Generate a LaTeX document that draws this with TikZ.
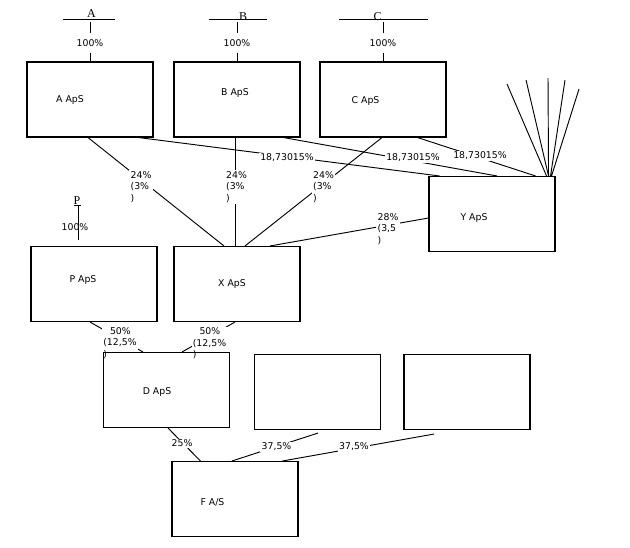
\documentclass[tikz,border=0pt]{standalone}
\usepackage{fontspec}
\setmainfont{DejaVu Sans}
\newfontfamily\ownerfont{Liberation Serif}
\usetikzlibrary{calc,backgrounds}
\def\px{0.75pt} % one pixel of the sketch
\tikzset{%
  >=latex,
  company/.style={draw,line width=0.8pt,minimum width=126*\px,
    minimum height=75*\px,inner sep=0pt},
  company name/.style={font=\fontsize{7}{8}\selectfont,inner sep=0pt},
  share/.style={font=\fontsize{7}{8.6}\selectfont,align=left,fill=white,
    inner sep=1pt},
  owner/.style={font=\ownerfont\fontsize{9}{9}\selectfont,anchor=base,
    inner sep=0pt},
  link/.style={line width=0.7pt}
}
\begin{document}
\begin{tikzpicture}[x=\px,y=-\px]
\useasboundingbox (0,0) rectangle (630,547);

%% companies

\node[company] (A) at (90,99.5) {};
\node[company] (B) at (237,99.5) {};
\node[company] (C) at (383,99.5) {};
\node[company] (Y) at (492,214) {};
\node[company] (P) at (94,284) {};
\node[company] (X) at (237,284) {};
\node[company] (D) at (166.5,390) {};
\node[company] (E1) at (317.5,392) {};
\node[company] (E2) at (467,392) {};
\node[company] (F) at (235,499) {};

\node[company name] (nA) at (70,100.5) {A ApS};
\node[company name] (nB) at (235,93) {B ApS};
\node[company name] (nC) at (365.5,101) {C ApS};
\node[company name] (nY) at (474,217.5) {Y ApS};
\node[company name] (nP) at (83,280) {P ApS};
\node[company name] (nX) at (232,284) {X ApS};
\node[company name] (nD) at (157,392) {D ApS};
\node[company name] (nF) at (212.5,502.5) {F A/S};

%% owners on top

\node[owner] (oA) at (91.5,17.5) {A};
\node[owner] (oB) at (243,20.5) {B};
\node[owner] (oC) at (377.5,20.5) {C};
\node[owner] (oP) at (77,204.5) {P};
\draw[link] (63,19) -- (115,19);
\draw[link] (209,19.3) -- (267,19.3);
\draw[link] (339,19.3) -- (428,19.3);
\draw[link] (74,205.5) -- (81,205.5);

\begin{scope}[on background layer]
\coordinate (tA) at (90,22);
\coordinate (tB) at (237,22);
\coordinate (tC) at (383,22);
\coordinate (tP) at (78,205.5);
\draw[link] (tA) -- (A.north) node[share,inner ysep=5pt] (lA) at (90,43) {100\%};
\draw[link] (tB) -- (B.north) node[share,inner ysep=5pt] (lB) at (237,43) {100\%};
\draw[link] (tC) -- (C.north) node[share,inner ysep=5pt] (lC) at (383,43) {100\%};
\draw[link] (tP) -- ($(P.north)+(-16,-6)$)
    node[share,fill=none] (lP) at (75,227) {100\%};

%% holdings in X ApS

\draw[link] ($(A.south)+(-2,0)$) -- ($(X.north)+(-13,0)$)
    node[share] (lAX) at (141,187) {24\%\\(3\%\\)};
\draw[link] ($(B.south)+(-2,0)$) -- ($(X.north)+(-2,0)$)
    node[share] (lBX) at (236.5,187) {24\%\\(3\%\\)};
\draw[link] ($(C.south)+(-1,0)$) -- ($(X.north)+(8,0)$)
    node[share] (lCX) at (323.5,187) {24\%\\(3\%\\)};
\draw[link] ($(Y.west)+(0,4)$) -- ($(X.north)+(33,0)$)
    node[share] (lYX) at (388,229) {28\%\\(3,5\\)};

%% holdings in Y ApS

\draw[link] ($(A.south east)+(-15,0)$) -- ($(Y.north west)+(11,0)$)
    node[share] (lAY) at (287,158) {18,73015\%};
\draw[link] ($(B.south east)+(-17,0)$) -- ($(Y.north)+(5,0)$)
    node[share] (lBY) at (413,158) {18,73015\%};
\draw[link] ($(C.south east)+(-29,0)$) -- ($(Y.north east)+(-20,0)$)
    node[share] (lCY) at (480,156) {18,73015\%};

\coordinate (f1) at (507,84);
\coordinate (f2) at (526,80);
\coordinate (f3) at (548,78);
\coordinate (f4) at (565,80);
\coordinate (f5) at (579,89);
\draw[link] ($(Y.north east)+(-9,0)$) -- (f1)
            ($(Y.north east)+(-7,0)$) -- (f2)
            ($(Y.north east)+(-7,0)$) -- (f3)
            ($(Y.north east)+(-5,0)$) -- (f4)
            ($(Y.north east)+(-4,0)$) -- (f5);

%% holdings in D ApS and F A/S

\draw[link] ($(P.south)+(-4,0)$) -- ($(D.north west)+(40,0)$)
    node[share] (lPD) at (120,343) {\hspace*{5pt}50\%\\(12,5\%\\)};
\draw[link] ($(X.south)+(-2,0)$) -- ($(D.north east)+(-48,0)$)
    node[share] (lXD) at (209.5,343.5) {\hspace*{5pt}50\%\\(12,5\%\\)};
\draw[link] ($(D.south)+(1.5,0)$) -- ($(F.north west)+(29,0)$)
    node[share] (lDF) at (182,443.5) {25\%};
\draw[link] ($(E1.south)+(0.5,3)$) -- ($(F.north)+(-3,0)$)
    node[share] (lEF) at (276.5,447) {37,5\%};
\draw[link] ($(E2.south)+(-33,4)$) -- ($(F.north east)+(-16,0)$)
    node[share] (lGF) at (354,447) {37,5\%};
\end{scope}
\end{tikzpicture}
\end{document}
